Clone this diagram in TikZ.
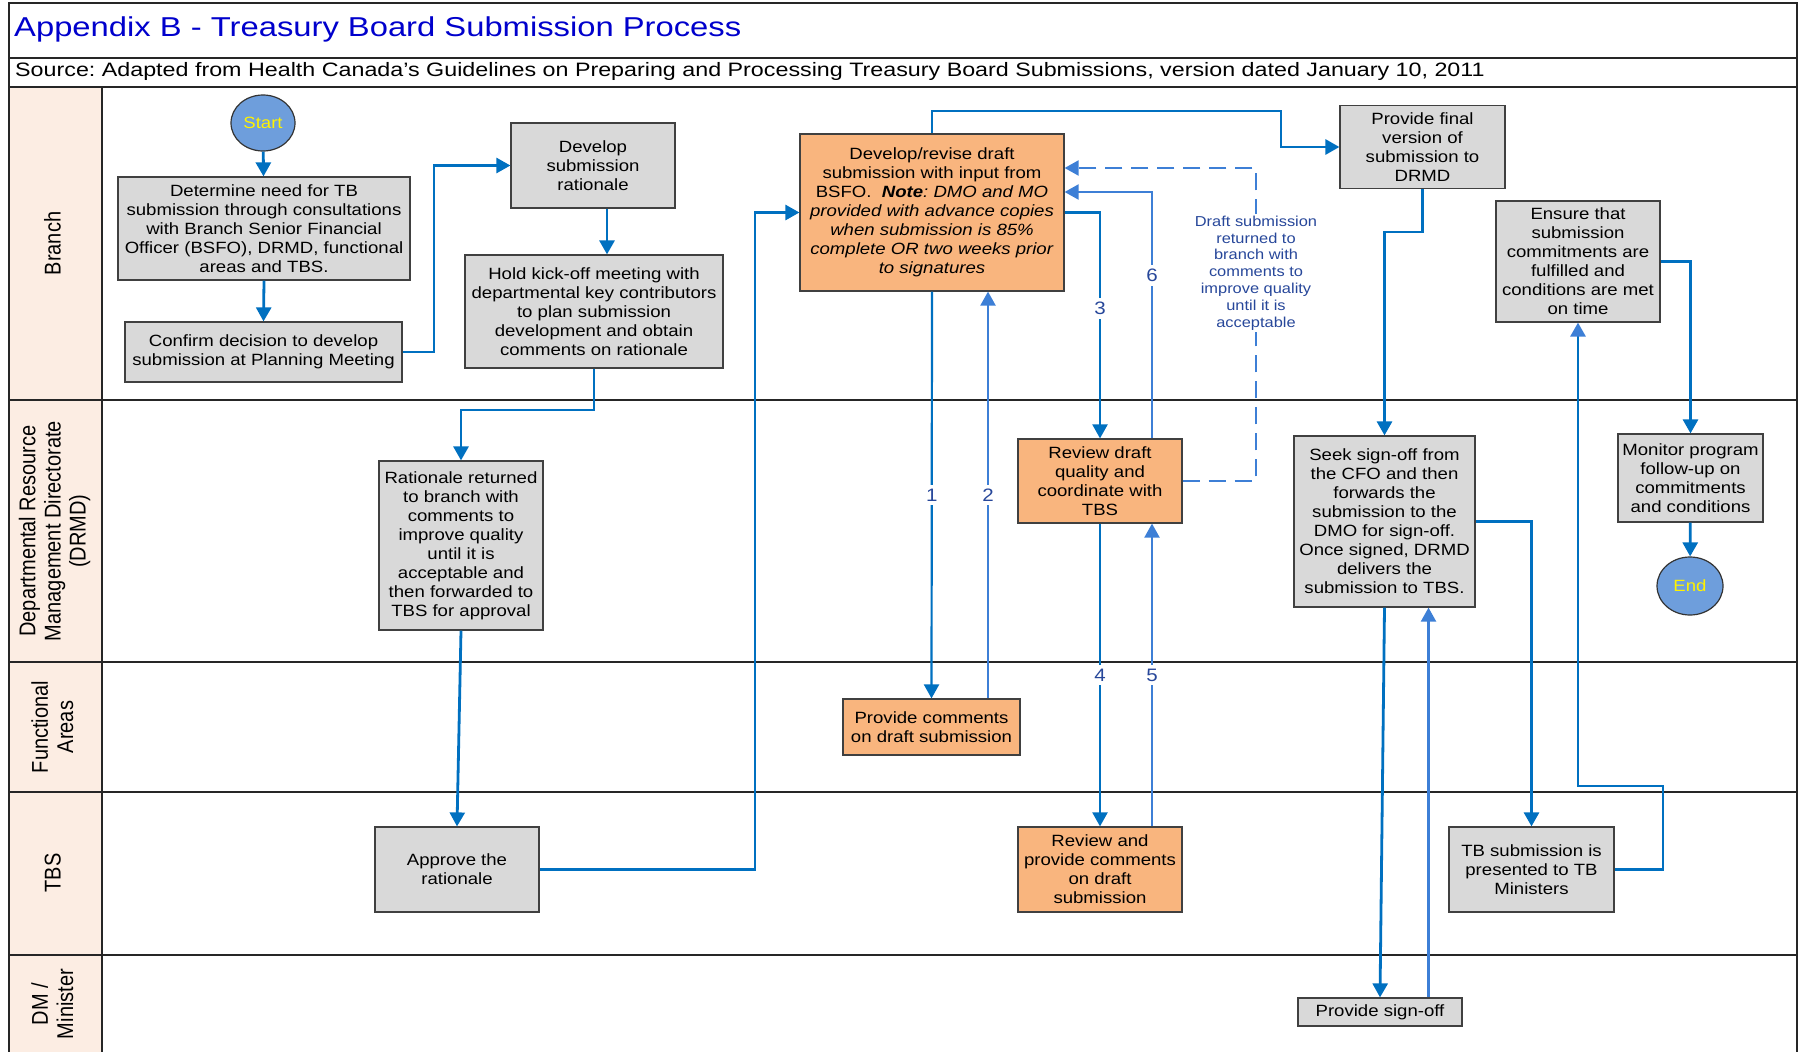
\documentclass[tikz,border=0pt]{standalone}
\usepackage{fontspec}
\usepackage{graphicx}
\setmainfont{Liberation Sans}
\newfontfamily\boxfont{Liberation Sans}[FakeStretch=1.14]
\newfontfamily\headfont{Liberation Sans}[FakeStretch=1.2]
\usetikzlibrary{arrows.meta,shapes.geometric}
\definecolor{cblue}{HTML}{0070C0}
\definecolor{lblue}{HTML}{3D7FD6}
\definecolor{gboxc}{HTML}{D9D9D9}
\definecolor{oboxc}{HTML}{F9B57E}
\definecolor{lanec}{HTML}{FCEDE3}
\definecolor{titleblue}{HTML}{0000CC}
\definecolor{lblc}{HTML}{27479A}
\definecolor{circc}{HTML}{6E9EDC}
\newcommand{\lanetext}[1]{\scalebox{1}[1.14]{\begin{tabular}{@{}c@{}}#1\end{tabular}}}
\frenchspacing
\begin{document}
\begin{tikzpicture}[x=1pt,y=-1pt,
 box/.style={draw=black!75, line width=1.2pt, fill=gboxc, align=center, inner sep=0pt, font=\boxfont\fontsize{16.3}{19}\selectfont},
 obox/.style={box, fill=oboxc},
 term/.style={ellipse, draw=black!80, line width=1.2pt, fill=circc, text=yellow, font=\boxfont\fontsize{16.3}{19}\selectfont, inner sep=0pt},
 conn/.style={draw=cblue, line width=2.8pt, -{Triangle[length=14pt,width=15pt]}},
 connL/.style={conn, draw=lblue},
 thin/.style={line width=2.2pt},
 num/.style={fill=white, text=lblc, font=\boxfont\fontsize{18}{19}\selectfont, inner xsep=3pt, inner ysep=4pt},
 lanelbl/.style={rotate=90, inner sep=0pt, font=\fontsize{20}{22}\selectfont},
 sep/.style={draw=black!85, line width=1.5pt}
 ]
\useasboundingbox (0,0) rectangle (1799,1052);
% background frame
\fill[lanec] (9,87) rectangle (102,1052);
\draw[sep] (9,1052) -- (9,3) -- (1797,3) -- (1797,1052);
\draw[sep] (9,58) -- (1797,58);
\draw[sep] (9,87) -- (1797,87);
\draw[sep] (9,400) -- (1797,400);
\draw[sep] (9,662) -- (1797,662);
\draw[sep] (9,792) -- (1797,792);
\draw[sep] (9,955) -- (1797,955);
\draw[sep] (102,87) -- (102,1052);

\node[anchor=base west, text=titleblue, font=\headfont\fontsize{27.3}{29}\selectfont, inner sep=0pt] (title) at (14,36.5) {Appendix B - Treasury Board Submission Process};
\node[anchor=base west, font=\headfont\fontsize{19.4}{20}\selectfont, inner sep=0pt] (source) at (15,76.8) {Source: Adapted from Health Canada’s Guidelines on Preparing and Processing Treasury Board Submissions, version dated January 10, 2011};

\node[lanelbl] (lBranch) at (55.5,243.5) {\lanetext{Branch}};
\node[lanelbl] (lDRMD) at (55.5,531) {\lanetext{Departmental Resource\\Management Directorate\\(DRMD)}};
\node[lanelbl] (lFA) at (55.5,727) {\lanetext{Functional\\Areas}};
\node[lanelbl] (lTBS) at (55.5,873) {\lanetext{TBS}};
\node[lanelbl] (lDM) at (55.5,1004) {\lanetext{DM /\\Minister}};

% nodes
\node[term, minimum width=64pt, minimum height=56pt] (start) at (263,123) {Start};
\node[box, minimum width=292pt, minimum height=103pt] (determine) at (264,228.5) {Determine need for TB\\submission through consultations\\with Branch Senior Financial\\Officer (BSFO), DRMD, functional\\areas and TBS.};
\node[box, minimum width=277pt, minimum height=60pt] (confirm) at (263.5,352) {Confirm decision to develop\\submission at Planning Meeting};
\node[box, minimum width=164pt, minimum height=85pt] (devrat) at (593,165.5) {Develop\\submission\\rationale};
\node[box, minimum width=258pt, minimum height=113pt] (hold) at (594,311.5) {Hold kick-off meeting with\\departmental key contributors\\to plan submission\\development and obtain\\comments on rationale};
\node[obox, minimum width=264pt, minimum height=157pt] (devdraft) at (932,212.5) {Develop/revise draft\\submission with input from\\BSFO.\ \ \textbf{\textit{Note}}\textit{: DMO and MO}\\\textit{provided with advance copies}\\\textit{when submission is 85\%}\\\textit{complete OR two weeks prior}\\\textit{to signatures}};
\node[box, minimum width=165pt, minimum height=83pt] (final) at (1422.5,147) {Provide final\\version of\\submission to\\DRMD};
\node[box, minimum width=164pt, minimum height=121pt] (ensure) at (1578,261.5) {Ensure that\\submission\\commitments are\\fulfilled and\\conditions are met\\on time};
\node[box, minimum width=164pt, minimum height=169pt] (ratret) at (461,545.5) {Rationale returned\\to branch with\\comments to\\improve quality\\until it is\\acceptable and\\then forwarded to\\TBS for approval};
\node[obox, minimum width=164pt, minimum height=84pt] (revq) at (1100,481) {Review draft\\quality and\\coordinate with\\TBS};
\node[box, minimum width=181pt, minimum height=171pt] (seek) at (1384.5,521.5) {Seek sign-off from\\the CFO and then\\forwards the\\submission to the\\DMO for sign-off.\\Once signed, DRMD\\delivers the\\submission to TBS.};
\node[box, minimum width=145pt, minimum height=88pt] (monitor) at (1690.5,478) {Monitor program\\follow-up on\\commitments\\and conditions};
\node[term, minimum width=66pt, minimum height=58pt] (end) at (1690,586) {End};
\node[obox, minimum width=177pt, minimum height=56pt] (provc) at (931.5,727) {Provide comments\\on draft submission};
\node[box, minimum width=164pt, minimum height=85pt] (approve) at (457,869.5) {Approve the\\rationale};
\node[obox, minimum width=164pt, minimum height=85pt] (revp) at (1100,869.5) {Review and\\provide comments\\on draft\\submission};
\node[box, minimum width=165pt, minimum height=85pt] (tbpres) at (1531.5,869.5) {TB submission is\\presented to TB\\Ministers};
\node[box, minimum width=164pt, minimum height=28pt] (signoff) at (1380,1012) {Provide sign-off};

% connectors
\draw[conn] (start) -- (determine);
\draw[conn] (determine.south) -- (confirm.north);
\draw[conn] (confirm.east) -- (434,0 |- confirm.east) |- (devrat.west);
\draw[conn] (607,0 |- devrat.south) -- (607,0 |- hold.north);
\draw[conn] (hold.south) -- (hold.south |- 0,410) -| (ratret.north);
\draw[conn] (ratret.south) -- (approve.north);
\draw[conn] (approve.east) -- (755,0 |- approve.east) |- (devdraft.west);
\draw[conn] (devdraft.north) |- (1281,111) |- (final.west);
\draw[conn, thin] (devdraft.south) -- (provc.north) node[num, pos=0.5] {1};
\draw[connL, thin] (988,0 |- provc.north) -- (988,0 |- devdraft.south) node[num, pos=0.5] {2};
\draw[conn, thin] (devdraft.east) -| (revq.north) node[num, pos=0.713] {3};
\draw[connL, thin] (1152,0 |- revq.north) |- (devdraft.east |- 0,192) node[num, pos=0.33] {6};
\draw[connL, thin, dash pattern=on 17pt off 9pt] (revq.east) -| (1256,168) -- (devdraft.east |- 0,168);
\node[fill=white, text=lblc, align=center, font=\boxfont\fontsize{14.4}{16.8}\selectfont, inner sep=2pt] (dlabel) at (1256,273) {Draft submission\\returned to\\branch with\\comments to\\improve quality\\until it is\\acceptable};
\draw[conn, thin] (revq.south) -- (revp.north) node[num, pos=0.5] {4};
\draw[connL, thin] (1152,0 |- revp.north) -- (1152,0 |- revq.south) node[num, pos=0.5] {5};
\draw[conn] (final.south) -- (final.south |- 0,232) -| (seek.north);
\draw[conn] (seek.south) -- (signoff.north);
\draw[connL, thin] (1428.5,0 |- signoff.north) -- (1428.5,0 |- seek.south);
\draw[conn] (seek.east) -| (tbpres.north);
\draw[conn, -{Triangle[length=14pt,width=15pt,color=lblue]}] (tbpres.east) -| (1663,786) -| (ensure.south);
\draw[conn] (ensure.east) -| (monitor.north);
\draw[conn] (monitor) -- (end);
\end{tikzpicture}
\end{document}
